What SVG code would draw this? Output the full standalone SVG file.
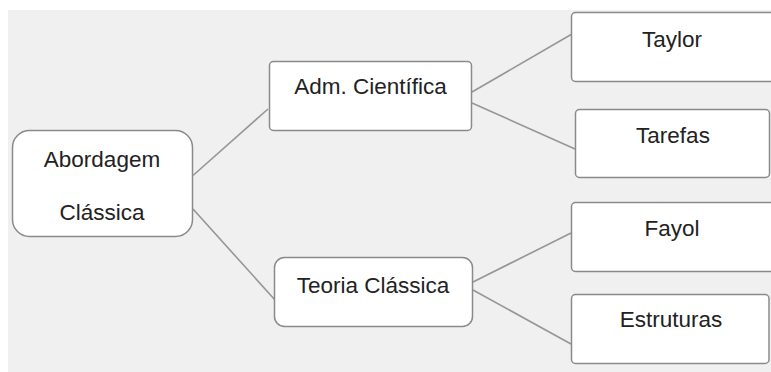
<svg xmlns="http://www.w3.org/2000/svg" width="771" height="372" viewBox="0 0 771 372">
<style>
.box{fill:#ffffff;stroke:#8a8a8a;stroke-width:1.5}
.lbl{font-family:"Liberation Sans",Arial,sans-serif;font-size:22.5px;fill:#222;text-anchor:middle}
.conn line{stroke:#969696;stroke-width:1.6}
</style>
<rect x="0" y="0" width="771" height="372" fill="#ffffff"/>
<rect x="8" y="10" width="763" height="362" fill="#f0f0f0"/>
<g class="conn" id="connectors">
<line x1="193" y1="175.5" x2="268" y2="109"/>
<line x1="193" y1="209" x2="275" y2="300"/>
<line x1="472" y1="92" x2="572" y2="34"/>
<line x1="472" y1="103" x2="575" y2="149"/>
<line x1="473" y1="282" x2="571" y2="233"/>
<line x1="473" y1="290" x2="571" y2="344"/>
</g>
<g id="abordagem">
<rect class="box" x="12.5" y="130.5" width="180" height="106" rx="17"/>
<text class="lbl" x="102" y="167">Abordagem</text>
<text class="lbl" x="102" y="220">Clássica</text>
</g>
<g id="adm">
<rect class="box" x="269.5" y="61.5" width="202" height="69" rx="4"/>
<text class="lbl" x="370.5" y="94">Adm. Científica</text>
</g>
<g id="teoria">
<rect class="box" x="274.5" y="257.5" width="198" height="69" rx="10"/>
<text class="lbl" x="373" y="293">Teoria Clássica</text>
</g>
<g id="taylor">
<rect class="box" x="571.5" y="12.5" width="205" height="69" rx="4"/>
<text class="lbl" x="672" y="47">Taylor</text>
</g>
<g id="tarefas">
<rect class="box" x="575.5" y="109.5" width="194" height="68" rx="4"/>
<text class="lbl" x="673" y="143">Tarefas</text>
</g>
<g id="fayol">
<rect class="box" x="571.5" y="202.5" width="205" height="69" rx="4"/>
<text class="lbl" x="672" y="236">Fayol</text>
</g>
<g id="estruturas">
<rect class="box" x="571.5" y="294.5" width="197.5" height="69" rx="4"/>
<text class="lbl" x="671" y="327">Estruturas</text>
</g>
</svg>
